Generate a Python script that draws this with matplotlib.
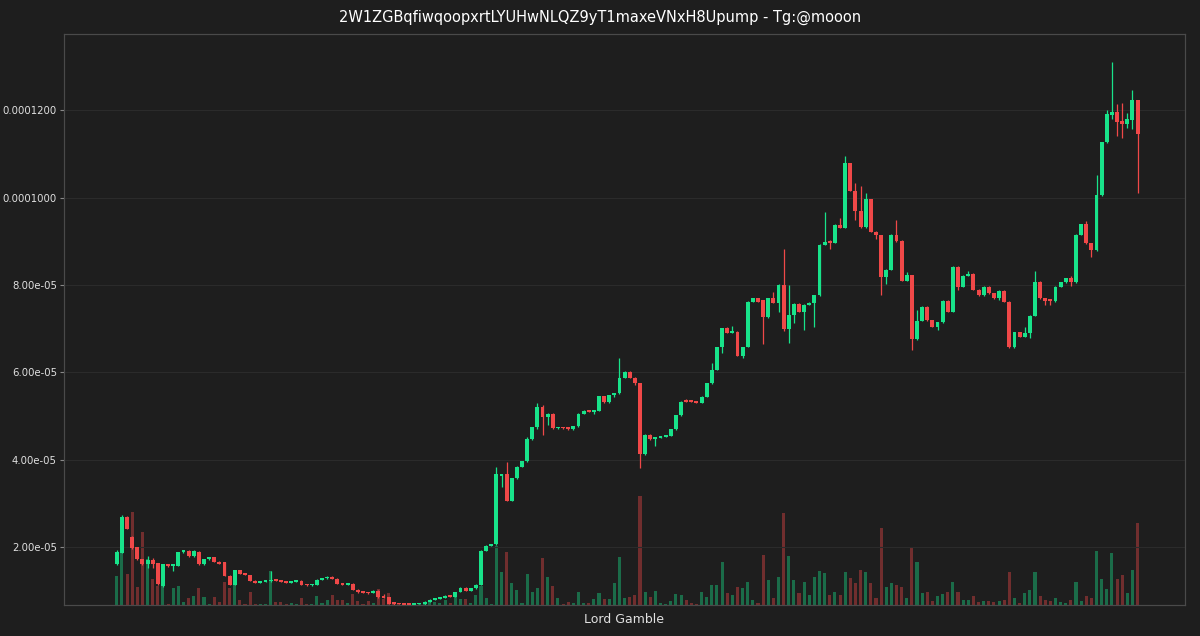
import numpy as np
import matplotlib
matplotlib.use("Agg")
from matplotlib import pyplot as plt
from matplotlib import ticker

# prices in units of 1e-5, one candle per entry
open_ = [1.61, 1.86, 2.68, 2.24, 2.00, 1.72, 1.60, 1.70, 1.63, 1.11,
         1.60, 1.56, 1.57, 1.88, 1.91, 1.79, 1.89, 1.60, 1.72, 1.76,
         1.66, 1.65, 1.34, 1.14, 1.47, 1.39, 1.36, 1.23, 1.18, 1.20,
         1.21, 1.24, 1.22, 1.20, 1.18, 1.20, 1.23, 1.14, 1.12, 1.13,
         1.25, 1.28, 1.32, 1.27, 1.16, 1.13, 1.16, 1.02, 0.96, 0.96,
         0.95, 1.00, 0.87, 0.85, 0.70, 0.695, 0.69, 0.68, 0.68, 0.685,
         0.69, 0.75, 0.79, 0.82, 0.84, 0.89, 0.86, 0.97, 1.07, 1.00,
         1.05, 1.14, 1.91, 2.03, 2.06, 3.63, 3.67, 3.06, 3.57, 3.84,
         3.96, 4.47, 4.74, 5.21, 4.97, 5.05, 4.72, 4.73, 4.72, 4.70,
         4.77, 5.05, 5.12, 5.10, 5.12, 5.46, 5.31, 5.48, 5.52, 5.865,
         6.02, 5.88, 5.75, 4.12, 4.57, 4.47, 4.50, 4.53, 4.55, 4.70,
         5.02, 5.37, 5.35, 5.33, 5.30, 5.44, 5.75, 6.06, 6.58, 7.01,
         6.91, 6.93, 6.38, 6.58, 7.62, 7.70, 7.65, 7.26, 7.70, 7.59,
         8.00, 6.99, 7.31, 7.57, 7.39, 7.55, 7.60, 7.77, 8.92, 9.02,
         8.97, 9.38, 9.31, 10.79, 10.16, 9.70, 9.32, 9.96, 9.22, 9.14,
         8.18, 8.35, 9.15, 9.02, 8.10, 8.23, 6.76, 7.18, 7.50, 7.19,
         7.05, 7.15, 7.64, 7.39, 8.42, 7.96, 8.21, 8.26, 7.89, 7.77,
         7.96, 7.81, 7.70, 7.87, 7.62, 6.57, 6.92, 6.82, 6.90, 7.30,
         8.07, 7.70, 7.66, 7.63, 7.96, 8.06, 8.16, 8.06, 9.15, 9.40,
         8.96, 8.80, 10.06, 11.27, 11.89, 11.96, 11.75, 11.69, 11.77, 12.23]
high = [1.93, 2.73, 2.70, 2.26, 2.00, 1.72, 1.79, 1.75, 1.64, 1.62,
        1.61, 1.61, 1.89, 1.93, 1.92, 1.92, 1.91, 1.73, 1.77, 1.77,
        1.67, 1.66, 1.35, 1.48, 1.48, 1.40, 1.37, 1.24, 1.21, 1.23,
        1.45, 1.25, 1.23, 1.21, 1.22, 1.23, 1.24, 1.15, 1.15, 1.26,
        1.29, 1.33, 1.33, 1.28, 1.17, 1.17, 1.17, 1.03, 0.97, 0.97,
        1.01, 1.01, 0.93, 0.86, 0.71, 0.70, 0.70, 0.69, 0.69, 0.70,
        0.76, 0.80, 0.83, 0.85, 0.89, 0.90, 0.98, 1.08, 1.08, 1.06,
        1.15, 1.92, 2.04, 2.07, 3.84, 3.68, 3.95, 3.58, 3.85, 3.97,
        4.53, 4.75, 5.29, 5.25, 5.06, 5.06, 4.74, 4.74, 4.73, 4.78,
        5.06, 5.13, 5.13, 5.13, 5.47, 5.47, 5.49, 5.53, 6.32, 6.03,
        6.03, 5.89, 5.76, 4.58, 4.58, 4.51, 4.54, 4.56, 4.71, 5.03,
        5.34, 5.38, 5.36, 5.34, 5.45, 5.76, 6.22, 6.59, 7.02, 7.05,
        7.07, 6.94, 6.59, 7.63, 7.71, 7.71, 7.66, 7.71, 7.83, 8.02,
        8.83, 7.99, 7.58, 7.58, 7.56, 7.61, 7.78, 8.93, 9.67, 9.03,
        9.39, 9.53, 10.96, 10.80, 10.33, 10.27, 10.12, 9.97, 9.23, 9.15,
        8.36, 9.16, 9.48, 9.03, 8.30, 8.24, 7.44, 7.51, 7.51, 7.20,
        7.16, 7.65, 7.65, 8.43, 8.43, 8.22, 8.33, 8.27, 7.90, 7.97,
        7.97, 7.82, 7.88, 7.88, 7.63, 6.93, 6.93, 7.05, 7.31, 8.32,
        8.10, 7.71, 7.67, 7.97, 8.07, 8.17, 8.20, 9.16, 9.41, 9.47,
        8.97, 10.52, 11.28, 12.00, 13.12, 12.14, 12.18, 11.93, 12.46, 12.24]
low = [1.58, 1.86, 2.41, 1.95, 1.70, 1.58, 1.51, 1.51, 1.13, 1.08,
       1.55, 1.45, 1.56, 1.87, 1.78, 1.78, 1.59, 1.59, 1.71, 1.65,
       1.61, 1.33, 1.12, 1.13, 1.38, 1.35, 1.22, 1.17, 1.17, 1.19,
       1.20, 1.21, 1.19, 1.17, 1.17, 1.19, 1.13, 1.11, 1.11, 1.12,
       1.24, 1.27, 1.26, 1.15, 1.12, 1.12, 1.01, 0.95, 0.94, 0.93,
       0.94, 0.84, 0.83, 0.69, 0.68, 0.68, 0.67, 0.67, 0.67, 0.68,
       0.68, 0.74, 0.78, 0.81, 0.83, 0.85, 0.85, 0.96, 0.99, 0.99,
       1.04, 1.13, 1.90, 2.02, 2.05, 3.38, 3.05, 3.05, 3.56, 3.83,
       3.95, 4.46, 4.70, 4.57, 4.80, 4.71, 4.71, 4.71, 4.69, 4.69,
       4.76, 5.04, 5.09, 5.04, 5.11, 5.30, 5.30, 5.43, 5.51, 5.86,
       5.86, 5.72, 3.80, 4.11, 4.46, 4.31, 4.49, 4.52, 4.54, 4.69,
       5.01, 5.32, 5.31, 5.29, 5.29, 5.43, 5.74, 6.05, 6.44, 6.90,
       6.90, 6.37, 6.33, 6.57, 7.61, 7.61, 6.64, 7.25, 7.58, 7.39,
       6.95, 6.67, 7.12, 7.38, 6.98, 7.54, 7.03, 7.76, 8.91, 8.83,
       8.96, 9.30, 9.30, 10.15, 9.49, 9.31, 9.31, 9.21, 9.05, 7.77,
       8.03, 8.34, 8.98, 8.09, 8.09, 6.51, 6.75, 7.17, 7.18, 7.04,
       6.98, 7.14, 7.38, 7.38, 7.88, 7.95, 8.20, 7.88, 7.76, 7.76,
       7.80, 7.69, 7.66, 7.61, 6.56, 6.56, 6.81, 6.81, 6.79, 7.29,
       7.69, 7.54, 7.54, 7.62, 7.95, 8.05, 7.98, 8.05, 9.14, 8.95,
       8.65, 8.79, 10.05, 11.26, 11.80, 11.41, 11.37, 11.60, 11.57, 10.11]
close = [1.89, 2.68, 2.41, 1.98, 1.72, 1.60, 1.70, 1.60, 1.15, 1.60,
         1.56, 1.60, 1.88, 1.91, 1.79, 1.91, 1.60, 1.72, 1.76, 1.66,
         1.62, 1.34, 1.14, 1.47, 1.39, 1.36, 1.23, 1.18, 1.20, 1.22,
         1.25, 1.22, 1.20, 1.18, 1.21, 1.22, 1.14, 1.12, 1.14, 1.25,
         1.28, 1.32, 1.27, 1.16, 1.13, 1.16, 1.02, 0.96, 0.95, 0.94,
         1.00, 0.85, 0.84, 0.70, 0.69, 0.685, 0.68, 0.675, 0.685, 0.69,
         0.75, 0.79, 0.82, 0.84, 0.88, 0.86, 0.97, 1.07, 1.00, 1.05,
         1.14, 1.91, 2.03, 2.06, 3.67, 3.67, 3.06, 3.57, 3.84, 3.96,
         4.47, 4.74, 5.21, 4.97, 5.05, 4.72, 4.73, 4.72, 4.70, 4.77,
         5.05, 5.12, 5.10, 5.12, 5.46, 5.31, 5.48, 5.52, 5.865, 6.02,
         5.865, 5.75, 4.12, 4.57, 4.47, 4.50, 4.53, 4.55, 4.70, 5.02,
         5.33, 5.33, 5.32, 5.30, 5.44, 5.75, 6.06, 6.58, 7.01, 6.91,
         6.94, 6.38, 6.58, 7.62, 7.70, 7.62, 7.26, 7.70, 7.59, 8.00,
         6.99, 7.31, 7.57, 7.39, 7.55, 7.60, 7.77, 8.92, 8.98, 8.97,
         9.38, 9.31, 10.79, 10.16, 9.70, 9.32, 9.96, 9.22, 9.14, 8.18,
         8.35, 9.15, 9.02, 8.10, 8.23, 6.76, 7.18, 7.50, 7.19, 7.05,
         7.15, 7.64, 7.39, 8.42, 7.96, 8.21, 8.26, 7.89, 7.77, 7.96,
         7.81, 7.70, 7.87, 7.62, 6.57, 6.92, 6.82, 6.90, 7.30, 8.07,
         7.70, 7.64, 7.63, 7.96, 8.06, 8.16, 8.06, 9.15, 9.40, 8.96,
         8.80, 10.06, 11.27, 11.92, 11.96, 11.73, 11.69, 11.80, 12.23, 11.47]
volume = [29, 53, 31, 93, 18, 73, 46, 26, 19, 21,
          1, 17, 19, 3, 7, 9, 17, 8, 1, 8,
          3, 23, 17, 22, 5, 1, 13, 1, 1, 1,
          34, 3, 3, 1, 2, 1, 7, 1, 1, 9,
          2, 5, 10, 5, 5, 2, 11, 4, 1, 4,
          2, 16, 6, 12, 1, 1, 1, 1, 1, 1,
          3, 4, 3, 2, 5, 2, 8, 6, 6, 2,
          10, 19, 7, 1, 59, 33, 53, 22, 15, 2,
          31, 13, 17, 47, 28, 19, 7, 1, 3, 2,
          13, 2, 2, 6, 12, 6, 6, 22, 48, 7,
          8, 10, 109, 13, 8, 14, 2, 1, 4, 11,
          10, 5, 2, 1, 13, 8, 20, 20, 43, 12,
          10, 18, 17, 23, 5, 2, 50, 25, 7, 28,
          92, 49, 25, 12, 23, 10, 28, 34, 32, 10,
          13, 10, 33, 27, 22, 35, 33, 22, 7, 77,
          18, 22, 20, 18, 7, 58, 43, 12, 13, 4,
          9, 11, 13, 23, 13, 5, 5, 9, 3, 4,
          4, 3, 4, 5, 33, 7, 2, 12, 15, 33,
          9, 5, 4, 7, 3, 2, 5, 23, 4, 9,
          7, 54, 26, 16, 52, 26, 30, 12, 35, 82]

title = "2W1ZGBqfiwqoopxrtLYUHwNLQZ9yT1maxeVNxH8Upump - Tg:@mooon"
xlabel = "Lord Gamble"
yticks = [2e-5, 4e-5, 6e-5, 8e-5, 1e-4, 1.2e-4]

SCALE = 1e-5
BG = "#1e1e1e"
UP = "#18e38a"
DOWN = "#f04848"

o = np.array(open_) * SCALE
h = np.array(high) * SCALE
l = np.array(low) * SCALE
c = np.array(close) * SCALE
vol = np.array(volume, dtype=float)
x = np.arange(len(o))
up = c >= o
cols = np.where(up, UP, DOWN)

fig = plt.figure(figsize=(12, 6.36), dpi=100, facecolor=BG)
ax2 = fig.add_axes([0.0533, 0.0487, 0.934, 0.8978])
ax = ax2.twinx()
ax.set_zorder(ax2.get_zorder() + 1)
ax.patch.set_visible(False)
ax2.set_facecolor(BG)

# volume underneath
ax2.bar(x, vol, width=0.6, color=cols, alpha=0.4, linewidth=0)
ax2.set_ylim(0, 571)
ax2.set_yticks([])

# candles
ax.vlines(x, l, h, colors=cols, linewidth=0.9)
body = np.maximum(np.abs(c - o), 0.04 * SCALE)
ax.bar(x, body, bottom=np.minimum(o, c), width=0.76, color=cols, linewidth=0)

ax.set_xlim(-10.3, 208.2)
ax.set_ylim(0.671 * SCALE, 13.75 * SCALE)
ax.yaxis.tick_left()
ax.set_yticks(yticks)
ax.yaxis.set_major_formatter(ticker.FuncFormatter(
    lambda v, p: f"{v:.7f}" if v >= 1e-4 - 1e-12 else f"{v:.2e}"))
ax.tick_params(axis="y", colors="#888888", labelcolor="#e0e0e0",
               labelsize=7.3, length=3, pad=2)
ax2.set_xticks([])
ax.set_xticks([])
ax.grid(axis="y", color="#2b2b2b", linewidth=0.8)
ax.set_axisbelow(True)

for a in (ax, ax2):
    for s in a.spines.values():
        s.set_color("#4a4a4a")

fig.suptitle(title, color="white", fontsize=10.5, y=0.985)
ax2.set_xlabel(xlabel, color="#e0e0e0", fontsize=9, labelpad=6)

fig.savefig("out.png", dpi=100, facecolor=BG)
